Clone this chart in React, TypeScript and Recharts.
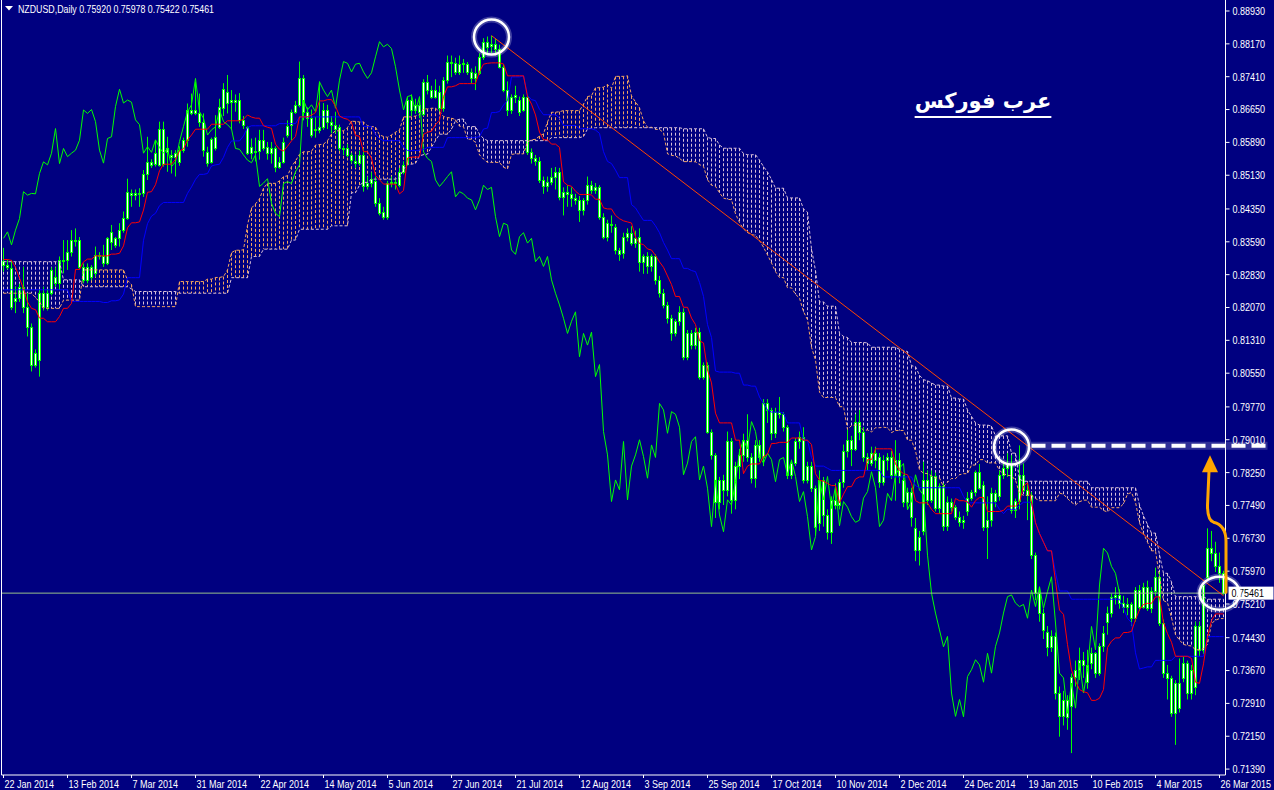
import React from 'react';
import { ComposedChart, Bar, Line, XAxis, YAxis, ReferenceLine, ReferenceDot } from 'recharts';

// ---------- daily NZDUSD candles (bar 0 = 22 Jan 2014) ----------
const opens = [
  .8315,.8305,.8298,.8221,.8228,.8255,.8209,.8163,.8074,.8085,
  .8240,.8209,.8240,.8278,.8263,.8317,.8318,.8336,.8363,.8364,
  .8301,.8271,.8301,.8286,.8328,.8325,.8309,.8359,.8367,.8367,
  .8386,.8413,.8473,.8467,.8471,.8471,.8517,.8544,.8540,.8537,
  .8621,.8567,.8560,.8556,.8544,.8571,.8594,.8665,.8656,.8656,
  .8637,.8567,.8544,.8575,.8625,.8668,.8706,.8682,.8687,.8687,
  .8641,.8625,.8564,.8570,.8568,.8595,.8579,.8564,.8575,.8533,
  .8544,.8605,.8629,.8660,.8676,.8737,.8660,.8645,.8620,.8618,
  .8625,.8664,.8637,.8630,.8625,.8575,.8575,.8560,.8545,.8542,
  .8560,.8487,.8495,.8500,.8448,.8427,.8417,.8494,.8498,.8490,
  .8521,.8540,.8687,.8664,.8676,.8655,.8729,.8710,.8695,.8706,
  .8668,.8733,.8776,.8772,.8752,.8770,.8770,.8752,.8737,.8750,
  .8787,.8822,.8812,.8816,.8806,.8764,.8710,.8664,.8695,.8687,
  .8664,.8695,.8567,.8552,.8545,.8502,.8487,.8498,.8510,.8521,
  .8463,.8475,.8470,.8460,.8456,.8433,.8456,.8490,.8480,.8485,
  .8417,.8371,.8400,.8394,.8340,.8332,.8371,.8380,.8356,.8371,
  .8313,.8325,.8302,.8325,.8271,.8240,.8213,.8182,.8147,.8175,
  .8197,.8093,.8147,.8120,.8150,.8047,.8074,.7920,.7866,.7758,
  .7808,.7785,.7897,.7762,.7840,.7866,.7901,.7862,.7812,.7889,
  .7860,.7985,.7970,.7916,.7966,.7960,.7930,.7820,.7847,.7897,
  .7908,.7808,.7840,.7789,.7708,.7808,.7727,.7688,.7762,.7750,
  .7804,.7874,.7901,.7880,.7943,.7920,.7862,.7847,.7870,.7860,
  .7804,.7855,.7860,.7820,.7854,.7808,.7758,.7781,.7696,.7646,
  .7690,.7808,.7762,.7816,.7742,.7793,.7702,.7758,.7745,.7723,
  .7710,.7735,.7766,.7781,.7827,.7796,.7700,.7715,.7777,.7770,
  .7820,.7835,.7846,.7739,.7759,.7820,.7785,.7773,.7634,.7546,
  .7500,.7457,.7422,.7446,.7315,.7261,.7300,.7284,.7353,.7369,
  .7392,.7380,.7384,.7407,.7361,.7423,.7480,.7500,.7538,.7542,
  .7523,.7515,.7520,.7488,.7553,.7515,.7561,.7511,.7550,.7584,
  .7477,.7361,.7350,.7268,.7338,.7350,.7384,.7315,.7330,.7469,
  .7415,.7584,.7650,.7639,.7608,.75920,
];
const highs = [
  .8345,.8318,.8317,.8255,.8262,.8301,.8240,.8170,.8110,.8248,
  .8255,.8250,.8300,.8300,.8325,.8363,.8363,.8386,.8390,.8370,
  .8309,.8309,.8305,.8348,.8335,.8352,.8370,.8398,.8370,.8402,
  .8429,.8505,.8480,.8480,.8483,.8525,.8602,.8550,.8594,.8637,
  .8637,.8602,.8571,.8571,.8580,.8600,.8679,.8702,.8729,.8702,
  .8656,.8579,.8600,.8652,.8690,.8726,.8745,.8710,.8700,.8703,
  .8650,.8626,.8598,.8600,.8618,.8618,.8590,.8590,.8580,.8555,
  .8600,.8640,.8665,.8685,.8776,.8745,.8670,.8665,.8648,.8730,
  .8680,.8676,.8650,.8660,.8630,.8580,.8585,.8565,.8560,.8570,
  .8575,.8510,.8520,.8510,.8460,.8440,.8500,.8510,.8505,.8530,
  .8545,.8695,.8700,.8690,.8685,.8735,.8745,.8720,.8735,.8720,
  .8740,.8790,.8790,.8785,.8790,.8782,.8775,.8760,.8765,.8795,
  .8830,.8834,.8836,.8830,.8815,.8770,.8730,.8700,.8720,.8695,
  .8700,.8700,.8575,.8560,.8555,.8510,.8510,.8530,.8532,.8530,
  .8485,.8490,.8485,.8470,.8465,.8460,.8510,.8500,.8495,.8490,
  .8425,.8410,.8420,.8400,.8345,.8380,.8390,.8395,.8385,.8390,
  .8330,.8335,.8330,.8330,.8280,.8250,.8220,.8190,.8180,.8210,
  .8205,.8155,.8155,.8160,.8160,.8080,.8080,.7925,.7870,.7815,
  .7820,.7920,.7905,.7850,.7880,.7915,.7960,.7870,.7900,.7900,
  .7995,.7995,.7975,.7975,.8000,.7965,.7935,.7855,.7905,.7920,
  .7930,.7850,.7850,.7795,.7830,.7815,.7740,.7770,.7800,.7810,
  .7890,.7925,.7910,.7960,.7970,.7930,.7870,.7885,.7885,.7870,
  .7865,.7870,.7875,.7900,.7870,.7820,.7790,.7790,.7720,.7690,
  .7850,.7830,.7830,.7825,.7800,.7800,.7770,.7765,.7750,.7735,
  .7725,.7780,.7785,.7830,.7845,.7805,.7770,.7790,.7785,.7830,
  .7850,.7870,.7865,.7765,.7888,.7846,.7800,.7780,.7640,.7560,
  .7510,.7470,.7460,.7455,.7330,.7320,.7310,.7360,.7390,.7420,
  .7410,.7415,.7420,.7410,.7430,.7470,.7515,.7545,.7560,.7555,
  .7540,.7535,.7525,.7560,.7565,.7570,.7575,.7560,.7605,.7595,
  .7485,.7380,.7355,.7345,.7395,.7400,.7390,.7380,.7480,.7480,
  .7570,.7696,.7690,.7665,.7640,.75978,
];
const lows = [
  .8290,.8295,.8201,.8194,.8220,.8194,.8140,.8059,.8068,.8047,
  .8200,.8200,.8235,.8255,.8248,.8286,.8294,.8325,.8348,.8295,
  .8263,.8263,.8270,.8278,.8318,.8301,.8305,.8340,.8345,.8348,
  .8380,.8410,.8440,.8455,.8440,.8463,.8502,.8530,.8533,.8533,
  .8533,.8521,.8517,.8510,.8535,.8565,.8579,.8652,.8652,.8625,
  .8556,.8533,.8540,.8570,.8620,.8650,.8656,.8618,.8660,.8633,
  .8620,.8560,.8550,.8545,.8549,.8570,.8549,.8540,.8520,.8528,
  .8540,.8600,.8594,.8655,.8670,.8640,.8625,.8600,.8600,.8610,
  .8618,.8620,.8610,.8610,.8570,.8560,.8555,.8540,.8530,.8535,
  .8475,.8480,.8485,.8440,.8420,.8410,.8410,.8485,.8480,.8485,
  .8515,.8535,.8650,.8655,.8645,.8650,.8700,.8690,.8690,.8660,
  .8660,.8725,.8740,.8745,.8745,.8750,.8745,.8725,.8710,.8745,
  .8780,.8795,.8795,.8790,.8760,.8705,.8650,.8655,.8680,.8650,
  .8660,.8560,.8540,.8535,.8495,.8470,.8475,.8490,.8480,.8455,
  .8420,.8440,.8440,.8445,.8405,.8420,.8445,.8470,.8470,.8410,
  .8365,.8360,.8380,.8330,.8315,.8320,.8360,.8350,.8345,.8290,
  .8285,.8285,.8290,.8260,.8230,.8205,.8170,.8130,.8140,.8165,
  .8085,.8085,.8110,.8110,.8040,.8040,.7915,.7855,.7720,.7740,
  .7750,.7770,.7730,.7740,.7810,.7850,.7850,.7800,.7790,.7850,
  .7840,.7940,.7900,.7905,.7950,.7920,.7810,.7810,.7840,.7880,
  .7800,.7800,.7780,.7680,.7690,.7700,.7670,.7660,.7740,.7740,
  .7790,.7860,.7840,.7875,.7900,.7850,.7830,.7840,.7835,.7790,
  .7795,.7830,.7810,.7760,.7800,.7745,.7740,.7700,.7620,.7610,
  .7680,.7750,.7755,.7735,.7730,.7690,.7690,.7735,.7715,.7700,
  .7695,.7725,.7760,.7770,.7785,.7690,.7625,.7700,.7745,.7760,
  .7810,.7815,.7730,.7720,.7740,.7780,.7715,.7625,.7530,.7480,
  .7440,.7400,.7410,.7300,.7214,.7240,.7230,.7176,.7330,.7345,
  .7350,.7325,.7370,.7350,.7355,.7410,.7450,.7490,.7520,.7510,
  .7500,.7495,.7470,.7480,.7505,.7510,.7505,.7500,.7540,.7470,
  .7350,.7300,.7260,.7195,.7270,.7340,.7300,.7300,.7310,.7400,
  .7405,.7575,.7620,.7595,.7570,.75422,
];
const closes = [
  .8305,.8300,.8209,.8228,.8255,.8209,.8163,.8074,.8101,.8240,
  .8209,.8240,.8294,.8263,.8317,.8318,.8336,.8363,.8364,.8301,
  .8271,.8301,.8278,.8328,.8325,.8309,.8367,.8382,.8352,.8386,
  .8413,.8475,.8467,.8471,.8470,.8517,.8544,.8537,.8564,.8621,
  .8540,.8575,.8556,.8564,.8571,.8594,.8664,.8656,.8665,.8637,
  .8571,.8541,.8598,.8602,.8672,.8712,.8680,.8687,.8682,.8641,
  .8630,.8564,.8579,.8566,.8595,.8577,.8564,.8575,.8533,.8544,
  .8591,.8626,.8660,.8676,.8737,.8660,.8645,.8606,.8618,.8625,
  .8664,.8637,.8630,.8620,.8575,.8573,.8560,.8548,.8542,.8560,
  .8487,.8495,.8505,.8448,.8425,.8417,.8494,.8498,.8494,.8521,
  .8537,.8687,.8664,.8676,.8660,.8729,.8710,.8695,.8710,.8668,
  .8733,.8776,.8772,.8752,.8770,.8772,.8752,.8737,.8750,.8787,
  .8822,.8810,.8816,.8806,.8764,.8710,.8664,.8695,.8698,.8660,
  .8695,.8567,.8552,.8545,.8502,.8487,.8498,.8510,.8521,.8463,
  .8475,.8470,.8460,.8456,.8433,.8456,.8490,.8480,.8485,.8417,
  .8371,.8402,.8398,.8340,.8330,.8371,.8380,.8356,.8367,.8313,
  .8325,.8302,.8325,.8271,.8240,.8213,.8182,.8147,.8175,.8197,
  .8093,.8147,.8120,.8150,.8047,.8075,.7920,.7866,.7758,.7808,
  .7785,.7897,.7762,.7840,.7866,.7901,.7862,.7812,.7889,.7860,
  .7985,.7970,.7916,.7966,.7960,.7930,.7820,.7847,.7897,.7908,
  .7808,.7840,.7789,.7700,.7808,.7727,.7688,.7762,.7750,.7804,
  .7874,.7901,.7880,.7943,.7920,.7862,.7847,.7870,.7855,.7804,
  .7855,.7860,.7820,.7854,.7816,.7758,.7781,.7723,.7646,.7677,
  .7808,.7762,.7816,.7742,.7793,.7702,.7758,.7745,.7723,.7710,
  .7715,.7766,.7781,.7827,.7790,.7700,.7715,.7777,.7760,.7820,
  .7835,.7846,.7739,.7759,.7820,.7785,.7773,.7634,.7546,.7500,
  .7461,.7422,.7446,.7315,.7261,.7300,.7260,.7353,.7369,.7392,
  .7380,.7340,.7407,.7361,.7423,.7454,.7500,.7538,.7542,.7523,
  .7515,.7520,.7488,.7553,.7515,.7561,.7511,.7550,.7584,.7477,
  .7361,.7350,.7268,.7338,.7280,.7384,.7315,.7369,.7469,.7415,
  .7565,.7650,.7639,.7608,.7592,.75461,
];

const tenkanLead = [.8318,.8318,.8316,.8300,.8275,.8250,.8220,.8205];
const kijunLead = [
  .8248,.8248,.8248,.8248,.8248,.8248,.8248,.8248,.8248,.8248,
  .8248,.8248,.8248,.8248,.8248,.8248,.8248,.8221,.8221,.8221,
  .8221,.8221,.8221,.8221,.8221,
];
const spanALead = [
  .8240,.8240,.8240,.8240,.8240,.8240,.8240,.8240,.8230,.8220,
  .8205,.8205,.8205,.8205,.8205,.8224,.8224,.8224,.8224,.8224,
  .8294,.8294,.8294,.8294,.8294,.8294,.8294,.8294,.8294,.8294,
  .8294,.8270,.8260,.8209,.8209,.8209,.8209,.8209,.8209,.8209,
  .8209,.8209,.8209,.8209,.8267,.8267,.8267,.8267,.8267,.8267,
  .8267,
];
const spanBLead = [
  .8313,.8313,.8313,.8313,.8313,.8313,.8313,.8313,.8313,.8313,
  .8313,.8313,.8313,.8313,.8313,.8271,.8271,.8271,.8271,.8271,
  .8255,.8255,.8255,.8255,.8255,.8255,.8255,.8255,.8255,.8255,
  .8255,.8255,.8250,.8244,.8244,.8244,.8244,.8244,.8244,.8244,
  .8244,.8244,.8244,.8244,.8240,.8240,.8240,.8240,.8240,.8240,
  .8240,.8240,.8240,.8240,.8240,.8240,.8240,.8276,.8276,.8276,
  .8276,.8276,.8325,.8325,.8325,.8342,.8342,.8342,.8342,.8342,
  .8342,.8342,.8363,.8363,.8388,.8388,.8388,
];

const dateTicks = [0,16,32,48,64,80,96,112,128,144,160,176,192,208,224,240,256,272,288,304];
const dateLabels = [
  '22 Jan 2014','13 Feb 2014','7 Mar 2014','31 Mar 2014','22 Apr 2014','14 May 2014','5 Jun 2014',
  '27 Jun 2014','21 Jul 2014','12 Aug 2014','3 Sep 2014','25 Sep 2014','17 Oct 2014','10 Nov 2014',
  '2 Dec 2014','24 Dec 2014','19 Jan 2015','10 Feb 2015','4 Mar 2015','26 Mar 2015',
];
const priceTicks = [
  0.88930,0.88170,0.87410,0.86650,0.85890,0.85130,0.84350,0.83590,0.82830,0.82070,0.81310,0.80550,
  0.79770,0.79010,0.78250,0.77490,0.76730,0.75970,0.75210,0.74430,0.73670,0.72910,0.72150,0.71390,
];
const titleValues = ['0.75920', '0.75978', '0.75422', '0.75461'];
const lastPrice = 0.75461;
const trendStart = { x: 122, y: 0.8836 };
const trendEnd = { x: 305, y: 0.7540 };
const resistance = { from: 257, to: 305, y: 0.7887 };
const circleMarks = [
  { x: 122, y: 0.8833 },
  { x: 252, y: 0.7884 },
];
const lastCircle = { x: 304, y: 0.7546 };
const Y_MIN = 0.712533;
const Y_MAX = 0.891845;

// ---------- Ichimoku (9, 26, 52) from the candles ----------
const N = closes.length;
const hh = (a: number, b: number) => Math.max(...highs.slice(a, b + 1));
const ll = (a: number, b: number) => Math.min(...lows.slice(a, b + 1));
const tenkan = closes.map((_, i) => (i < 8 ? tenkanLead[i] : (hh(i - 8, i) + ll(i - 8, i)) / 2));
const kijun = closes.map((_, i) => (i < 25 ? kijunLead[i] : (hh(i - 25, i) + ll(i - 25, i)) / 2));
const spanA = closes.map((_, i) => (i < 51 ? spanALead[i] : (tenkan[i - 26] + kijun[i - 26]) / 2));
const spanB = closes.map((_, i) => (i < 77 ? spanBLead[i] : (hh(i - 77, i - 26) + ll(i - 77, i - 26)) / 2));
const chikou = closes.map((_, i) => (i + 26 < N ? closes[i + 26] : null));

const rows = closes.map((c, i) => ({
  i, o: opens[i], h: highs[i], l: lows[i], c,
  tenkan: tenkan[i], kijun: kijun[i], chikou: chikou[i], spanA: spanA[i], spanB: spanB[i],
}));

const BG = '#000080';
const FONT = "'Liberation Sans', Arial, sans-serif";
const SQUEEZE = 0.82;
const LIME = '#00FF00';

function CandleShape(props: any) {
  const { x, y, width, height, payload } = props;
  if (!payload || !(height > 0)) return <g />;
  const k = height / (payload.h - payload.l);
  const py = (v: number) => y + (payload.h - v) * k;
  const cx = x + width / 2;
  const hi = Math.max(payload.spanA, payload.spanB);
  const lo = Math.min(payload.spanA, payload.spanB);
  const cloudCol = payload.spanA > payload.spanB ? '#F4A460' : '#D8BFD8';
  const bt = Math.round(py(Math.max(payload.o, payload.c))) + 0.5;
  let bb = Math.round(py(Math.min(payload.o, payload.c))) + 0.5;
  if (bb - bt < 1) bb = bt + 1;
  return (
    <g>
      <line x1={cx} x2={cx} y1={py(hi)} y2={py(lo)} stroke={cloudCol} strokeDasharray="3 2" />
      <line x1={cx} x2={cx} y1={py(payload.h)} y2={py(payload.l)} stroke={LIME} />
      <rect x={cx - 1} y={bt} width={2} height={bb - bt} fill="#FFFFFF" stroke={LIME} />
    </g>
  );
}

const renderDateTick = (p: any) => {
  const idx = dateTicks.indexOf(p.payload.value);
  return (
    <text
      transform={`translate(${p.x + 1},${p.y}) scale(${SQUEEZE},1)`}
      dy="0.71em"
      fill="#fff"
      fontSize={11}
      fontFamily={FONT}
      textAnchor="start"
    >
      {dateLabels[idx]}
    </text>
  );
};

const renderPriceTick = (p: any) => (
  <text
    transform={`translate(${p.x},${p.y}) scale(${SQUEEZE},1)`}
    dy="0.355em"
    fill="#fff"
    fontSize={11}
    fontFamily={FONT}
    textAnchor="start"
  >
    {Number(p.payload.value).toFixed(5)}
  </text>
);

const PriceTag = (props: any) => {
  const vb = props.viewBox || {};
  const right = (vb.x || 0) + (vb.width || 0);
  const cy = vb.y || 0;
  return (
    <g>
      <rect x={right + 3} y={cy - 6.5} width={45} height={13} fill="#FFFFFF" />
      <text
        transform={`translate(${right + 6},${cy}) scale(${SQUEEZE},1)`}
        dy="0.355em"
        fontSize={11}
        fontFamily={FONT}
        fill="#000"
      >
        {lastPrice.toFixed(5)}
      </text>
    </g>
  );
};

const CircleMark = (p: any) => (
  <g>
    <circle cx={p.cx} cy={p.cy} r={17.5} fill="none" stroke="rgba(255,255,255,0.25)" strokeWidth={6} />
    <circle cx={p.cx} cy={p.cy} r={17.5} fill="none" stroke="#FFFFFF" strokeWidth={2.5} />
  </g>
);

const EllipseMark = (p: any) => (
  <g>
    <ellipse cx={p.cx} cy={p.cy} rx={20} ry={16.5} fill="none" stroke="rgba(255,255,255,0.25)" strokeWidth={6} />
    <ellipse cx={p.cx} cy={p.cy} rx={20} ry={16.5} fill="none" stroke="#FFFFFF" strokeWidth={2.5} />
  </g>
);

const ArrowMark = (p: any) => {
  const { cx, cy } = p;
  const d = `M ${cx + 2.5} ${cy - 1} L ${cx + 2.5} ${cy - 52} Q ${cx + 2.5} ${cy - 68} ${cx - 10} ${cy - 71} Q ${cx - 16} ${cy - 73} ${cx - 16} ${cy - 88} L ${cx - 14.5} ${cy - 122}`;
  return (
    <g>
      <path d={d} fill="none" stroke="#FFA500" strokeWidth={3} strokeLinecap="round" />
      <polygon points={`${cx - 21.5},${cy - 121} ${cx - 5.5},${cy - 121} ${cx - 13.5},${cy - 138}`} fill="#FFA500" />
    </g>
  );
};

const DashedResistance = (p: any) => (
  <g>
    <line x1={p.x1} y1={p.y1} x2={p.x2 + 44} y2={p.y2} stroke="rgba(255,255,255,0.18)" strokeWidth={8} />
    <line x1={p.x1} y1={p.y1} x2={p.x2 + 44} y2={p.y2} stroke="#FFFFFF" strokeWidth={4} strokeDasharray="14 6" />
  </g>
);

export default function App() {
  return (
    <div style={{ position: 'absolute', left: 0, top: 0, width: 1274, height: 790, background: BG, overflow: 'hidden' }}>
      <ComposedChart
        width={1274}
        height={790}
        data={rows}
        margin={{ top: 0, right: 0, bottom: 0, left: 0 }}
        barCategoryGap={0}
        barGap={0}
      >
        <XAxis
          dataKey="i"
          type="category"
          ticks={dateTicks}
          interval={0}
          tickSize={3}
          height={15}
          axisLine={{ stroke: '#fff' }}
          tickLine={{ stroke: '#fff' }}
          tick={renderDateTick}
        />
        <YAxis
          yAxisId="left"
          orientation="left"
          type="number"
          width={1.5}
          domain={[Y_MIN, Y_MAX]}
          allowDataOverflow
          tick={false}
          tickLine={false}
          axisLine={{ stroke: '#fff' }}
        />
        <YAxis
          yAxisId="price"
          orientation="right"
          type="number"
          width={48.5}
          domain={[Y_MIN, Y_MAX]}
          allowDataOverflow
          ticks={priceTicks}
          interval={0}
          tickSize={4}
          tickMargin={3}
          tick={renderPriceTick}
          axisLine={{ stroke: '#fff' }}
          tickLine={{ stroke: '#fff' }}
        />
        <Bar
          yAxisId="price"
          dataKey={(d: any) => [d.l, d.h]}
          shape={CandleShape}
          isAnimationActive={false}
        />
        <Line yAxisId="price" type="linear" dataKey="spanA" stroke="#F4A460" strokeDasharray="3 2" strokeWidth={1} dot={false} activeDot={false} isAnimationActive={false} />
        <Line yAxisId="price" type="linear" dataKey="spanB" stroke="#D8BFD8" strokeDasharray="3 2" strokeWidth={1} dot={false} activeDot={false} isAnimationActive={false} />
        <Line yAxisId="price" type="linear" dataKey="chikou" stroke={LIME} strokeWidth={1} dot={false} activeDot={false} isAnimationActive={false} />
        <Line yAxisId="price" type="linear" dataKey="kijun" stroke="#0000FF" strokeWidth={1} dot={false} activeDot={false} isAnimationActive={false} />
        <Line yAxisId="price" type="linear" dataKey="tenkan" stroke="#FF0000" strokeWidth={1} dot={false} activeDot={false} isAnimationActive={false} />
        <ReferenceLine yAxisId="price" y={lastPrice} stroke="#98C08A" strokeWidth={1} label={<PriceTag />} />
        <ReferenceLine
          yAxisId="price"
          segment={[trendStart, trendEnd]}
          stroke="#FF4500"
          strokeWidth={1}
          ifOverflow="visible"
        />
        <ReferenceLine
          yAxisId="price"
          segment={[{ x: resistance.from, y: resistance.y }, { x: resistance.to, y: resistance.y }]}
          shape={DashedResistance}
          ifOverflow="visible"
        />
        {circleMarks.map((m, k) => (
          <ReferenceDot key={k} yAxisId="price" x={m.x} y={m.y} r={17} shape={CircleMark} ifOverflow="visible" />
        ))}
        <ReferenceDot yAxisId="price" x={lastCircle.x} y={lastCircle.y} r={18} shape={EllipseMark} ifOverflow="visible" />
        <ReferenceDot yAxisId="price" x={305} y={lastCircle.y} r={2} shape={ArrowMark} ifOverflow="visible" />
      </ComposedChart>

      <svg style={{ position: 'absolute', left: 0, top: 0 }} width={320} height={18}>
        <polygon points="5,6 13,6 9,10.5" fill="#fff" />
        <text transform="translate(18,12.5) scale(0.84,1)" fill="#fff" fontSize={10.5} fontFamily={FONT}>
          {'NZDUSD,Daily  ' + titleValues.join(' ')}
        </text>
      </svg>

      <div
        dir="rtl"
        style={{
          position: 'absolute',
          left: 913,
          top: 88,
          width: 140,
          textAlign: 'center',
          color: '#fff',
          fontFamily: '"DejaVu Sans", sans-serif',
          fontWeight: 'bold',
          fontSize: 21,
          lineHeight: '26px',
          textDecoration: 'underline',
          textDecorationThickness: '2px',
          textUnderlineOffset: '8px',
          textDecorationSkipInk: 'none',
        }}
      >
        عرب فوركس
      </div>
    </div>
  );
}
